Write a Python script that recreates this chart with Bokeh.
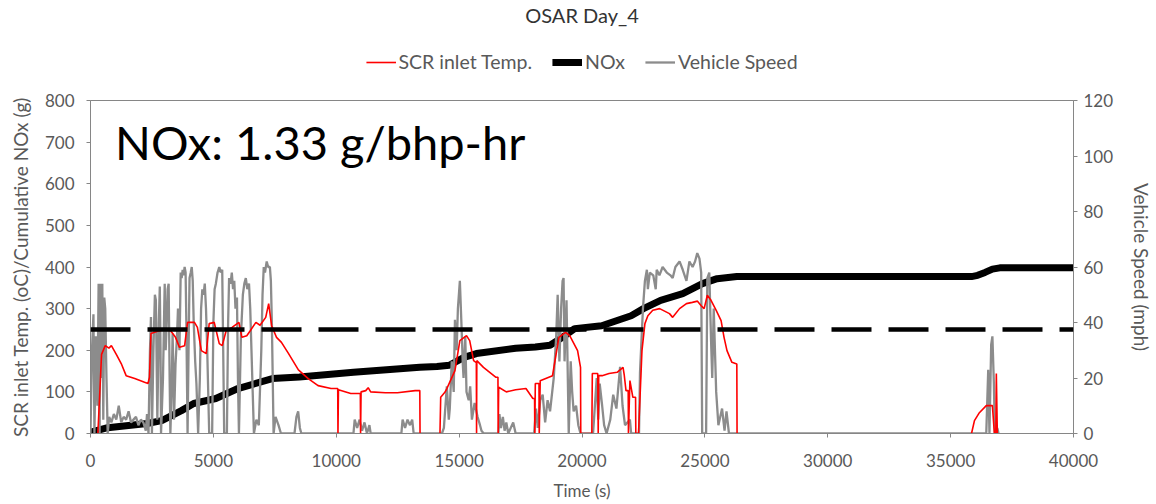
import math
from bokeh.plotting import figure
from bokeh.layouts import column
from bokeh.models import Range1d, LinearAxis, Span, Label, Legend, LegendItem, FixedTicker
from bokeh.embed import file_html
from bokeh.resources import INLINE

nan = float("nan")

title_text = "OSAR Day_4"
annotation_text = "NOx: 1.33 g/bhp-hr"
threshold = 250
series_names = ["SCR inlet Temp.", "NOx", "Vehicle Speed"]

# Cumulative NOx (g)
nox_t = [0, 700, 2300, 2900, 3700, 4200, 5100, 6000, 7400, 8500, 10700, 13400, 14100, 14600,
         15200, 15700, 17300, 18100, 18700, 19200, 19700, 20800, 21400, 22000, 22500, 23200,
         24100, 24900, 25500, 26300, 35850, 36100, 36400, 36700, 37000, 40000]
nox_v = [3, 14, 24, 31, 55, 72, 84, 108, 132, 136, 147, 159, 161, 164, 183, 192, 205, 208, 212,
         231, 252, 259, 271, 283, 300, 320, 336, 360, 372, 377, 377, 380, 387, 395, 398, 398]

# SCR inlet temperature (oC)
scr_t = [300, 450, 600, 750, 850, 1050, 1250, 1450, 1800, 2200, 2340, 2400, 2460, 2700, 3000,
         3260, 3460, 3620, 3830, 3950, 4230, 4350, 4510, 4710, 4830, 5035, 5240, 5360, 5520,
         5760, 6040, 6160, 6360, 6500, 6730, 6900, 7130, 7250, 7370, 7570, 7770, 8060, 8460,
         8860, 9260, 9790, 10060, 10070, 10090, 10590, 10980, 10990, 11010, 11200, 11300, 11400,
         12000, 12490, 13210, 13400, 13410, 13420, 14220, 14250, 14420, 14500, 14830, 15030,
         15300, 15430, 15590, 15700, 15710, 15720, 15990, 16500, 16580, 16590, 16610, 16920,
         17300, 17720, 18000, 18070, 18080, 18100, 18250, 18260, 18300, 18800, 19060, 19330,
         19500, 19820, 19940, 19950, 20400, 20420, 20640, 20660, 20680, 20820, 21100, 21430,
         21670, 21720, 21790, 21880, 21890, 21950, 22070, 22180, 22190, 22300, 22440, 22560,
         22680, 22880, 23160, 23560, 23690, 23970, 24250, 24490, 24700, 24850, 24970, 25100,
         25250, 25460, 25660, 25780, 25900, 26100, 26300, 26310, 26320, 35850, 35970, 36170,
         36450, 36700, 36780, 36840, 36860, 36900, 36910]
scr_v = [0, 190, 211, 205, 211, 190, 168, 139, 132, 123, 120, 135, 240, 245, 250,
         247, 231, 207, 211, 267, 267, 255, 199, 192, 264, 267, 216, 211, 247,
         255, 267, 231, 235, 247, 267, 260, 279, 312, 259, 231, 219, 192, 153,
         132, 115, 108, 108, 0, 105, 96, 96, 0, 100, 103, 110, 100,
         98, 98, 103, 103, 0, nan, 0, 87, 99, 108, 151, 223,
         235, 223, 175, 170, 0, 175, 159, 135, 135, 0, 111, 100,
         105, 108, 84, 84, 0, 120, 120, 0, 127, 139, 231, 243,
         235, 199, 159, 0, 0, 144, 144, 0, 139, 139, 144, 147,
         159, 140, 103, 103, 0, 127, 87, 87, 0, 0, 199, 264,
         283, 296, 300, 288, 279, 300, 312, 315, 318, 307, 300, 332,
         320, 296, 271, 231, 199, 171, 167, 0, nan, 0, 31, 50,
         67, 67, 0, 0, 144, 0, nan]

# Vehicle speed (mph)
spd_t = [0, 60, 120, 160, 220, 280, 330, 370, 400, 440, 480, 520, 560, 600, 650, 700, 760, 850,
         950, 1050, 1150, 1250, 1350, 1450, 1550, 1650, 1750, 1850, 1950, 2050, 2150, 2250, 2300,
         2360, 2420, 2460, 2500, 2560, 2620, 2660, 2700, 2720, 2780, 2820, 2850, 2870, 2950, 3000,
         3020, 3060, 3100, 3140, 3180, 3220, 3250, 3300, 3340, 3380, 3400, 3460, 3520, 3560, 3620,
         3670, 3710, 3750, 3790, 3830, 3870, 3900, 3950, 3990, 4030, 4080, 4120, 4160, 4200, 4260,
         4310, 4380, 4450, 4500, 4550, 4600, 4650, 4700, 4750, 4830, 4950, 5000, 5050, 5100, 5170,
         5240, 5300, 5360, 5400, 5440, 5550, 5600, 5640, 5700, 5750, 5800, 5850, 5900, 5960, 6000,
         6040, 6120, 6200, 6260, 6320, 6380, 6450, 6500, 6550, 6600, 6650, 6750, 6850, 6950, 7000,
         7050, 7100, 7170, 7230, 7300, 7340, 7380, 7450, 7530, 7650, 7750,
         8300, 8380, 8450, 8520, 8580, 10700, 10750, 10850, 10950, 11050, 11150, 11250,
         11350, 11400, 12650, 12700, 12800, 12900, 13000, 13090, 13150, 14300, 14380, 14500,
         14580, 14620, 14700, 14780, 14830, 14900, 14950, 15030, 15100, 15150, 15180, 15250, 15300,
         15390, 15450, 15520, 15630, 15750, 15850, 15910, 16000, 16600, 16640, 16700, 16780, 16850,
         16920, 17000, 17200, 17300, 18050, 18130, 18200, 18300, 18400, 18500, 18600, 18700, 18850,
         18950, 19010, 19080, 19150, 19210, 19250, 19290, 19370, 19460, 19540, 19600, 19660, 19760,
         19850, 19940, 20450, 20540, 20600, 20660, 20720, 20820, 20900, 21000, 21150, 21270, 21400,
         21550, 21650, 21750, 21950, 22000, 22320, 22360, 22480, 22560, 22640, 22680, 22760, 22900,
         23000, 23040, 23150, 23280, 23450, 23600, 23690, 23800, 23970, 24100, 24250, 24370, 24500,
         24600, 24690, 24780, 24850, 24890, 25050, 25100, 25180, 25250, 25300, 25360, 25460, 25550,
         25700, 25800, 25880, 25980, 36450, 36530, 36580, 36650, 36700, 36760, 36800, 36900, 36950]
spd_v = [0, 30, 43, 0, 35, 10, 54, 0, 54, 20, 54, 5, 49, 45, 20, 0, 6, 4,
         7, 5, 10, 4, 6, 5, 8, 4, 5, 6, 3, 5, 4, 1, 7,
         0, 30, 42, 0, 30, 50, 48, 20, 5, 40, 53, 30, 0, 20, 45,
         54, 30, 40, 52, 54, 20, 0, 15, 36, 20, 5, 25, 35, 45, 30,
         58, 56, 59, 57, 60, 58, 40, 0, 30, 56, 58, 60, 55, 40, 26,
         18, 0, 20, 45, 52, 50, 54, 45, 30, 0, 0, 40, 52, 54, 58,
         60, 58, 59, 30, 0, 0, 40, 56, 54, 58, 52, 55, 45, 49, 20,
         0, 35, 50, 54, 56, 52, 54, 45, 30, 15, 0, 5, 3, 30, 50,
         60, 58, 62, 60, 60, 55, 40, 0, 6, 3, 0,
         0, 6, 8, 2, 0, 0, 5, 2, 5, 1, 4, 0,
         3, 0, 0, 5, 2, 5, 3, 5, 0, 0, 2, 17,
         5, 9, 26, 15, 41, 30, 45, 55, 38, 25, 20, 35, 15,
         12, 17, 5, 11, 6, 3, 1, 0, 0, 7, 2, 6, 1,
         4, 0, 4, 0, 0, 9, 2, 12, 14, 4, 12, 8, 20,
         35, 50, 26, 45, 55, 56, 26, 48, 0, 26, 15, 8, 10,
         3, 0, 0, 12, 20, 5, 18, 10, 3, 0, 5, 14, 9,
         24, 10, 3, 5, 0, 0, 22, 45, 55, 59, 52, 58, 57,
         52, 59, 57, 60, 58, 57, 56, 60, 62, 59, 55, 62, 60,
         62, 65, 63, 58, 0, 0, 56, 58, 34, 20, 45, 15, 3,
         9, 1, 8, 0, 0, 23, 0, 32, 35, 18, 0, 2, 0]

x_ticks = [0, 5000, 10000, 15000, 20000, 25000, 30000, 35000, 40000]
left_ticks = [0, 100, 200, 300, 400, 500, 600, 700, 800]
right_ticks = [0, 20, 40, 60, 80, 100, 120]

FONT = "Lato"
TXT = "#595959"
AX = "#868686"
RED, BLACK, GRAY = "#ff0000", "black", "#8c8c8c"
W_RED, W_NOX, W_SPD = 1.6, 7, 2.3

# ---- header: title + legend (legend renderers reuse the series, kept out of the header's view) ----
head = figure(width=1156, height=82, x_range=Range1d(-2, -1), y_range=Range1d(-2, -1),
              x_axis_type=None, y_axis_type=None, output_backend="svg", toolbar_location=None,
              min_border=0)
head.outline_line_color = None
head.grid.visible = False
head.title.text = title_text
head.title.align = "center"
head.title.text_font = FONT
head.title.text_font_size = "20px"
head.title.text_font_style = "normal"
head.title.text_color = "#333333"
head.title.offset = 4
head.title.standoff = 0
h_red = head.line(scr_t, scr_v, line_color=RED, line_width=W_RED)
h_nox = head.line(nox_t, nox_v, line_color=BLACK, line_width=W_NOX)
h_spd = head.line(spd_t, spd_v, line_color=GRAY, line_width=W_SPD)
legend = Legend(items=[LegendItem(label=series_names[0], renderers=[h_red]),
                       LegendItem(label=series_names[1], renderers=[h_nox]),
                       LegendItem(label=series_names[2], renderers=[h_spd])],
                orientation="horizontal", location="bottom_center",
                label_text_font=FONT, label_text_font_size="19.5px", label_text_color=TXT,
                glyph_width=30, spacing=20, label_standoff=3, padding=4, margin=9,
                border_line_color=None, background_fill_alpha=0)
head.add_layout(legend)

# ---- main chart ----
p = figure(width=1156, height=422, x_range=Range1d(0, 40000), y_range=Range1d(0, 800),
           output_backend="svg", toolbar_location=None,
           min_border_left=90, min_border_right=73, min_border_top=18, min_border_bottom=71)
p.extra_y_ranges = {"speed": Range1d(0, 120)}
p.grid.visible = False
p.outline_line_color = AX
p.outline_line_width = 1

p.line(nox_t, nox_v, line_color=BLACK, line_width=W_NOX)
p.line(spd_t, spd_v, line_color=GRAY, line_width=W_SPD, y_range_name="speed")
p.line(scr_t, scr_v, line_color=RED, line_width=W_RED)

p.add_layout(Span(location=threshold, dimension="width", line_color="black", line_width=4.5,
                  line_dash="40 17"))

p.add_layout(Label(x=1000, y=700, text=annotation_text, text_font=FONT, text_font_size="47px",
                   text_color="black", text_baseline="alphabetic"))

p.xaxis.ticker = FixedTicker(ticks=x_ticks)
p.yaxis.ticker = FixedTicker(ticks=left_ticks)
p.xaxis.axis_label = "Time (s)"
p.yaxis.axis_label = "SCR inlet Temp. (oC)/Cumulative NOx (g)"

right = LinearAxis(y_range_name="speed", ticker=FixedTicker(ticks=right_ticks),
                   axis_label="Vehicle Speed (mph)")
p.add_layout(right, "right")

for ax in [p.xaxis[0], p.yaxis[0], right]:
    ax.axis_line_color = AX
    ax.major_tick_line_color = AX
    ax.minor_tick_line_color = None
    ax.major_tick_in = 0
    ax.major_tick_out = 4
    ax.major_label_text_font = FONT
    ax.major_label_text_font_size = "17px"
    ax.major_label_text_color = TXT
    ax.axis_label_text_font = FONT
    ax.axis_label_text_font_size = "17px"
    ax.axis_label_text_font_style = "normal"
    ax.axis_label_text_color = TXT
p.xaxis.major_label_standoff = 16
p.xaxis.axis_label_standoff = 10
p.yaxis.major_label_standoff = 12
p.yaxis.axis_label_standoff = 10
p.yaxis.axis_label_text_font_size = "19px"
right.major_label_standoff = 6
right.axis_label_standoff = 14
right.axis_label_text_font_size = "19px"

layout = column(head, p, spacing=0)
open("out.html", "w").write(file_html(layout, INLINE))
